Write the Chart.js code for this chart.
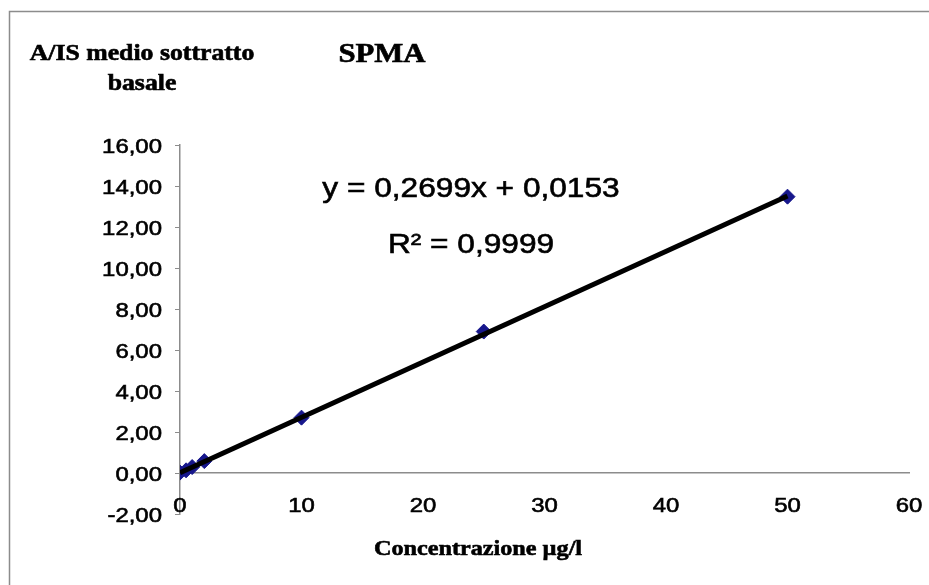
<!DOCTYPE html>
<html>
<head>
<meta charset="utf-8">
<script src="https://cdn.jsdelivr.net/npm/chart.js@4"></script>
<style>
  body { margin: 0; background: #fff; }
  canvas { display: block; }
</style>
</head>
<body>
<canvas id="grafico" width="929" height="585"></canvas>
<script>
// dati
const concentrazioni = [0, 0.5, 1, 2, 10, 25, 50];
const valoriAIS = [0.02, 0.13, 0.29, 0.58, 2.70, 6.90, 13.48];
// retta di tendenza (estremi)
const trendX = [0, 50];
const trendY = [0.0153, 13.51];
const ticksX = [0, 10, 20, 30, 40, 50, 60];
const ticksY = [-2, 0, 2, 4, 6, 8, 10, 12, 14, 16];

const titolo = "SPMA";
const titoloY = ["A/IS medio sottratto", "basale"];
const titoloX = "Concentrazione \u00b5g/l";
const equazione = "y = 0,2699x + 0,0153";
const erre2 = "R\u00b2 = 0,9999";

const grigio = "#8c8c8c";
const blu = "#17178c";

// scrive testo allargato in orizzontale (l'immagine originale e' stirata)
function scrivi(ctx, testo, x, y, font, align, sx) {
  ctx.save();
  ctx.translate(x, y);
  ctx.scale(sx, 1);
  ctx.font = font;
  ctx.textAlign = align;
  ctx.textBaseline = "alphabetic";
  ctx.fillStyle = "#000";
  ctx.strokeStyle = "#000";
  ctx.lineWidth = 0.6;
  ctx.fillText(testo, 0, 0);
  ctx.strokeText(testo, 0, 0);
  ctx.restore();
}

const testi = {
  id: "testi",
  afterDraw(chart) {
    const ctx = chart.ctx;
    const sx = chart.scales.x, sy = chart.scales.y;

    // cornice
    ctx.save();
    ctx.strokeStyle = grigio;
    ctx.lineWidth = 1.5;
    ctx.beginPath();
    ctx.moveTo(9.5, 585);
    ctx.lineTo(9.5, 11.5);
    ctx.lineTo(929, 11.5);
    ctx.stroke();
    ctx.restore();

    // etichette asse y
    ticksY.forEach(v => {
      const py = sy.getPixelForValue(v);
      scrivi(ctx, v.toFixed(2).replace(".", ","), 162, py + 7.5, "21px 'Liberation Sans'", "right", 1.14);
    });
    // etichette asse x (in basso)
    ticksX.forEach(v => {
      const px = sx.getPixelForValue(v);
      scrivi(ctx, String(v), px, 512, "21px 'Liberation Sans'", "center", 1.14);
    });

    scrivi(ctx, titolo, 382, 62, "bold 27px 'Liberation Serif'", "center", 1.14);
    scrivi(ctx, titoloY[0], 142, 60, "bold 23px 'Liberation Serif'", "center", 1.12);
    scrivi(ctx, titoloY[1], 142, 90, "bold 23px 'Liberation Serif'", "center", 1.12);
    scrivi(ctx, titoloX, 478, 555, "bold 22px 'Liberation Serif'", "center", 1.1);

    scrivi(ctx, equazione, 471, 197, "28px 'Liberation Sans'", "center", 1.13);
    scrivi(ctx, erre2, 471, 253, "28px 'Liberation Sans'", "center", 1.13);
  }
};

const grafico = new Chart(document.getElementById("grafico"), {
  type: "scatter",
  data: {
    datasets: [
      {
        label: "tendenza",
        type: "line",
        data: trendX.map((x, i) => ({ x: x, y: trendY[i] })),
        borderColor: "#000",
        borderWidth: 5,
        pointRadius: 0,
        fill: false,
        order: 0,
      },
      {
        label: "SPMA",
        data: concentrazioni.map((x, i) => ({ x: x, y: valoriAIS[i] })),
        pointStyle: "rectRot",
        pointRadius: 7.5,
        backgroundColor: blu,
        borderColor: blu,
        borderWidth: 1,
        order: 1,
      },
    ],
  },
  options: {
    responsive: false,
    animation: false,
    devicePixelRatio: 1,
    layout: { padding: { left: 180, right: 20, top: 145, bottom: 71 } },
    plugins: { legend: { display: false }, tooltip: { enabled: false } },
    scales: {
      x: {
        type: "linear",
        position: { y: 0 },
        min: 0,
        max: 60,
        ticks: { display: false, stepSize: 10 },
        grid: { display: false },
        border: { display: true, color: grigio, width: 1.5 },
      },
      y: {
        type: "linear",
        min: -2,
        max: 16,
        ticks: { display: false, stepSize: 2 },
        grid: { drawOnChartArea: false, drawTicks: true, tickLength: 5, color: grigio, tickColor: grigio },
        border: { display: true, color: grigio, width: 1.5 },
        afterFit(scale) { scale.width = 0; },
      },
    },
  },
  plugins: [testi],
});
</script>
</body>
</html>
